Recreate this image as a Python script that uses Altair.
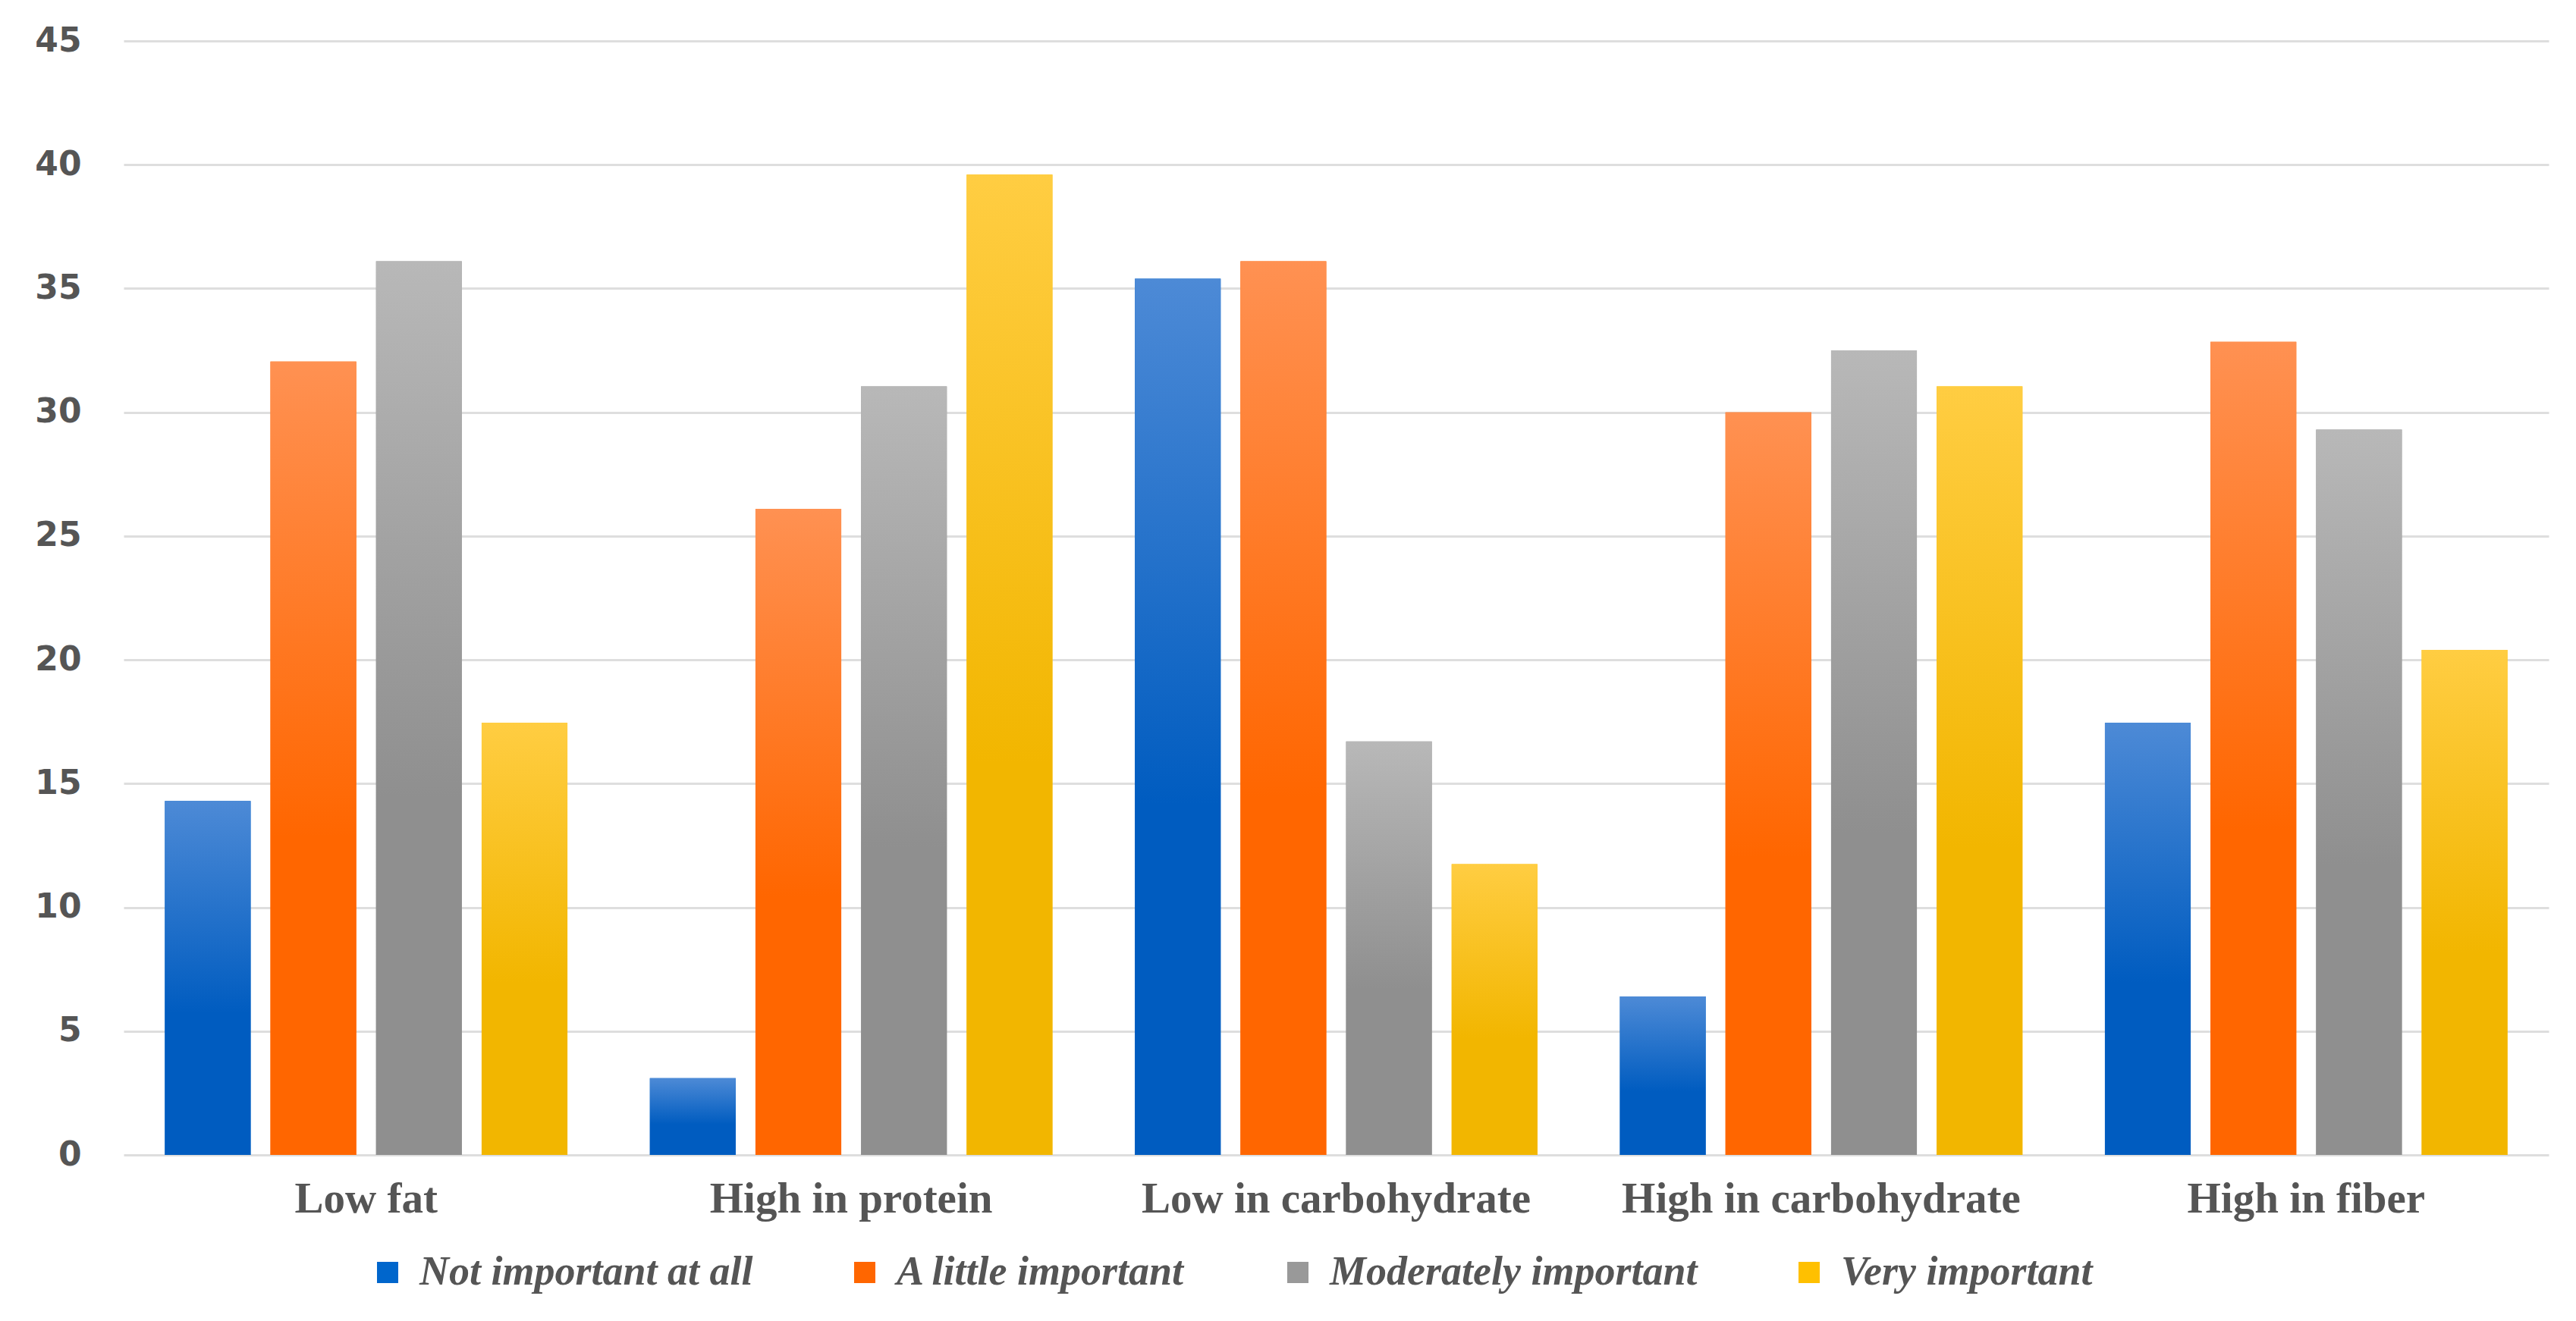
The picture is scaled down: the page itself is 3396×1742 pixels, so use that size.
import altair as alt
import pandas as pd

categories = ["Low fat", "High in protein", "Low in carbohydrate", "High in carbohydrate", "High in fiber"]
series = ["Not important at all", "A little important", "Moderately important", "Very important"]

not_important = [14.3, 3.1, 35.4, 6.4, 17.45]
little_important = [32.05, 26.1, 36.1, 30.0, 32.85]
moderately_important = [36.1, 31.05, 16.7, 32.5, 29.3]
very_important = [17.45, 39.6, 11.75, 31.05, 20.4]

solid_colors = ["#0066cc", "#ff6600", "#999999", "#ffc000"]
grad_top = ["#4d8ad6", "#ff9152", "#b8b8b8", "#ffcd42"]
grad_bottom = ["#005cc0", "#ff6600", "#8f8f8f", "#f2b600"]

rows = []
for s, vals in zip(series, [not_important, little_important, moderately_important, very_important]):
    for c, v in zip(categories, vals):
        rows.append({"category": c, "series": s, "value": v})
df = pd.DataFrame(rows)

x_enc = alt.X(
    "category:N",
    sort=categories,
    scale=alt.Scale(paddingInner=0.17, paddingOuter=0.085),
    axis=alt.Axis(
        title=None,
        labelAngle=0,
        labelFont="Liberation Serif",
        labelFontWeight="bold",
        labelFontSize=57,
        labelColor="#555555",
        labelPadding=30,
        labelLimit=0,
        ticks=False,
        domain=False,
        grid=False,
    ),
)
xoff_enc = alt.XOffset("series:N", sort=series, scale=alt.Scale(paddingInner=0.1875, paddingOuter=0))
y_enc = alt.Y(
    "value:Q",
    scale=alt.Scale(domain=[0, 45], nice=False),
    axis=alt.Axis(
        title=None,
        values=list(range(0, 46, 5)),
        labelFont="DejaVu Sans",
        labelFontWeight="bold",
        labelFontSize=44,
        labelColor="#555555",
        labelPadding=56,
        ticks=False,
        domain=False,
        grid=True,
        gridColor="#dedede",
        gridWidth=3,
    ),
)

base = alt.Chart(df).encode(x=x_enc, xOffset=xoff_enc, y=y_enc)

legend_layer = base.mark_bar().encode(
    color=alt.Color(
        "series:N",
        sort=series,
        scale=alt.Scale(domain=series, range=solid_colors),
        legend=alt.Legend(
            title=None,
            orient="none",
            legendX=321,
            legendY=1597,
            direction="horizontal",
            columns=4,
            symbolType="square",
            symbolSize=784,
            symbolStrokeWidth=0,
            symbolOpacity=1,
            labelFont="Liberation Serif",
            labelFontStyle="italic",
            labelFontWeight="bold",
            labelFontSize=54,
            labelColor="#555555",
            labelOffset=15,
            labelLimit=0,
            columnPadding=120,
            padding=0,
        ),
    )
)

layers = [legend_layer]
for s, top, bot in zip(series, grad_top, grad_bottom):
    grad = alt.Gradient(
        gradient="linear",
        x1=0, x2=0, y1=0, y2=1,
        stops=[
            alt.GradientStop(color=top, offset=0),
            alt.GradientStop(color=bot, offset=0.6),
            alt.GradientStop(color=bot, offset=1),
        ],
    )
    layers.append(base.transform_filter(alt.datum.series == s).mark_bar(fill=grad))

chart = alt.layer(*layers).properties(
    width=3197,
    height=1469,
    autosize=alt.AutoSizeParams(type="none"),
    padding={"left": 155, "top": 46, "right": 28, "bottom": 200},
    background="white",
).configure_view(stroke=None)

chart.save("out.html", embed_options={"renderer": "svg", "actions": False})
